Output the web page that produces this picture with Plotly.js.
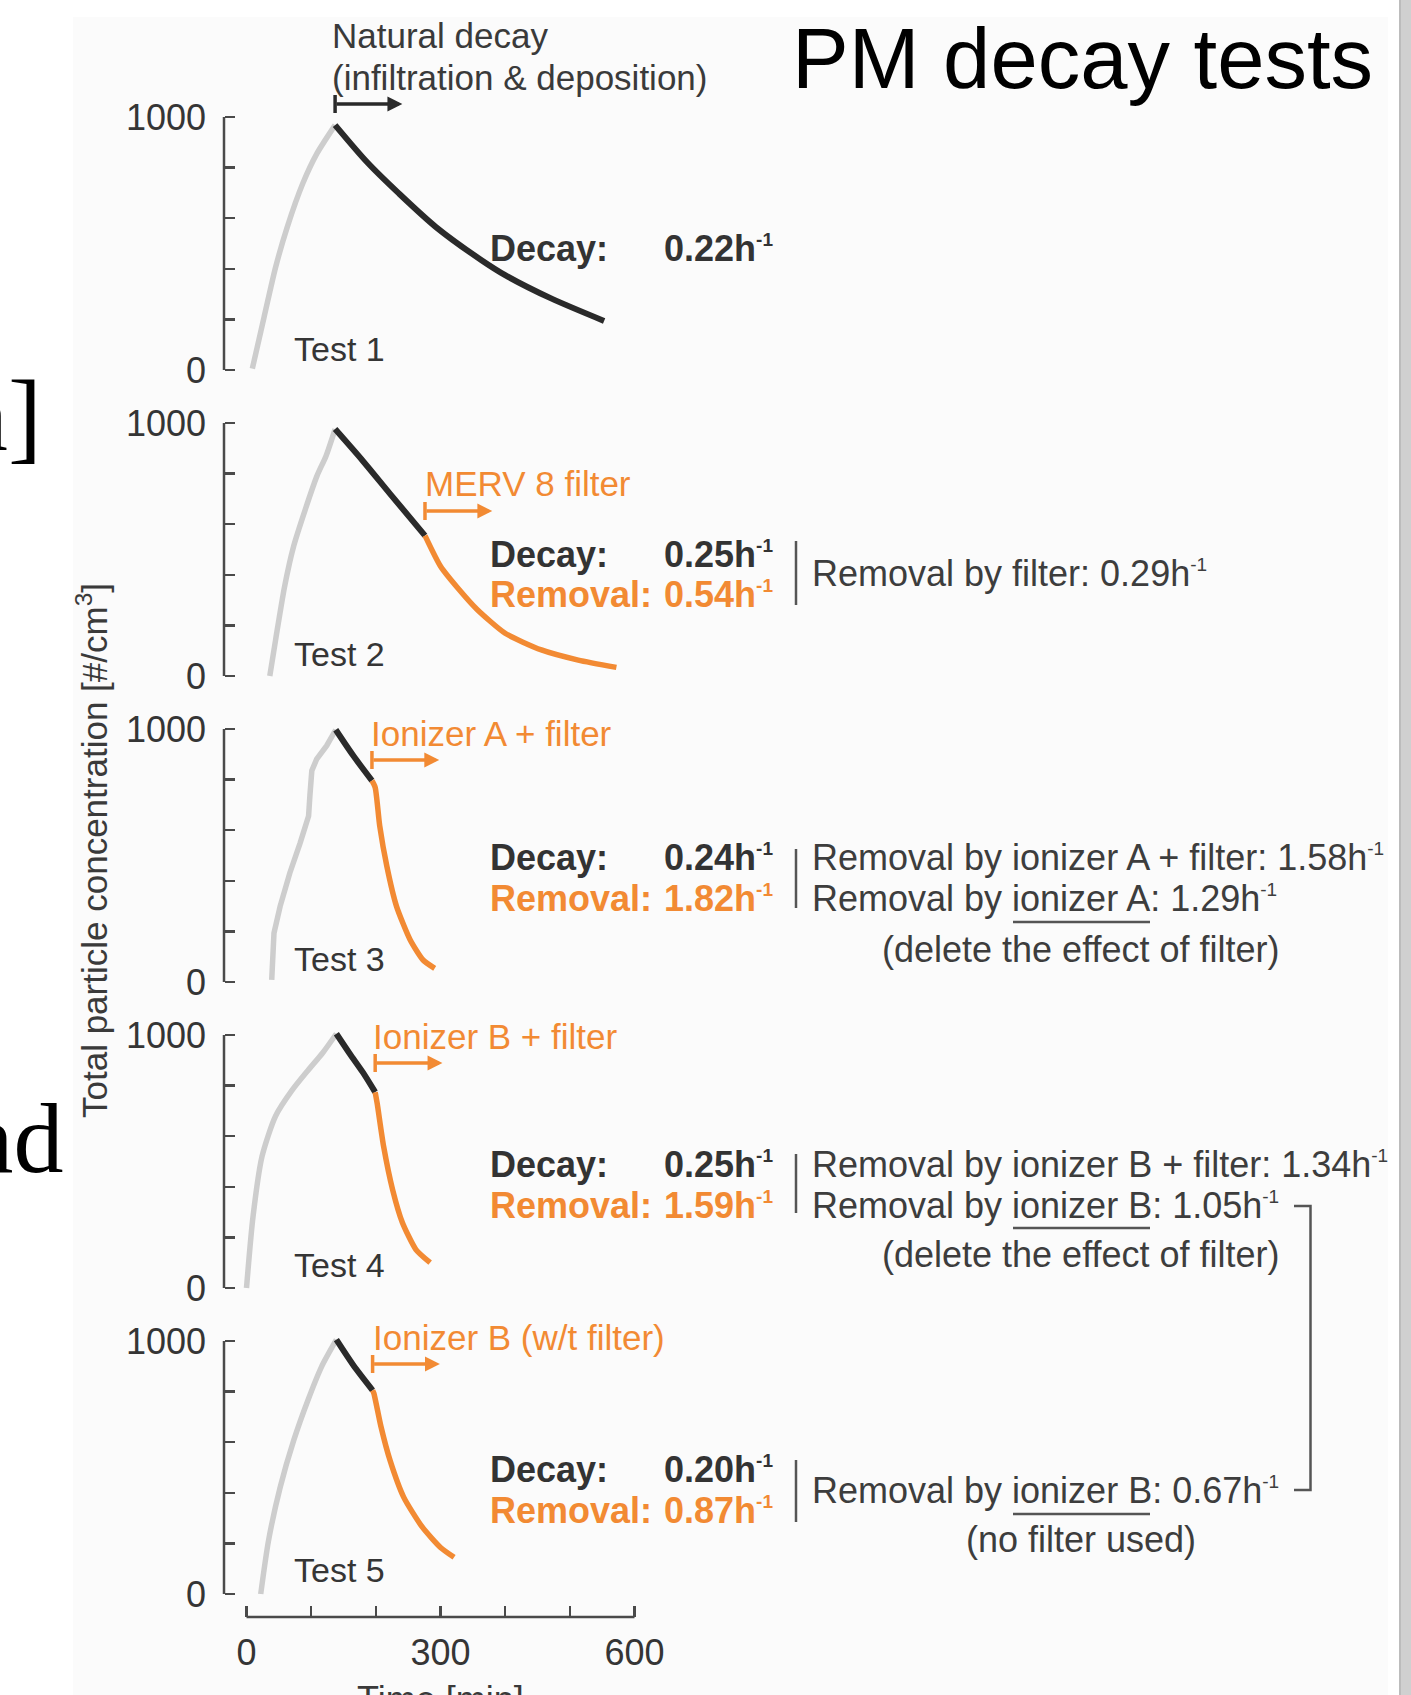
<!DOCTYPE html>
<html>
<head>
<meta charset="utf-8">
<script src="https://cdn.plot.ly/plotly-3.0.1.min.js"></script>
<style>html,body{margin:0;padding:0;background:#fff;}#chart{width:1411px;height:1695px;}</style>
</head>
<body>
<div id="chart"></div>
<script>
// ---------------- data ----------------
const timeTicks = [0, 300, 600];
const timeTickText = ['0', '300', '600'];
const concTicks = [0, 1000];
const concTickText = ['0', '1000'];

// Test 1
const rise1T = [9, 27, 45, 63, 87, 109, 137];
const rise1C = [5, 207, 406, 565, 737, 856, 968];
const decay1T = [137, 187, 236, 293, 364, 400, 471, 553];
const decay1C = [968, 820, 697, 565, 433, 375, 283, 194];
// Test 2
const rise2T = [36, 45, 59, 73, 91, 109, 123, 137];
const rise2C = [0, 143, 355, 514, 659, 791, 870, 976];
const decay2T = [137, 180, 222, 276];
const decay2C = [976, 850, 720, 555];
const removal2T = [276, 300, 329, 357, 400, 456, 513, 572];
const removal2C = [555, 434, 341, 262, 169, 103, 63, 34];
// Test 3
const rise3T = [39, 42.5, 52, 67, 83, 96, 98, 101, 108.5, 124, 138];
const rise3C = [8, 193, 299, 431, 550, 656, 735, 835, 881, 934, 997];
const decay3T = [138, 165, 194];
const decay3C = [997, 895, 796];
const removal3T = [194, 199, 206, 217, 232, 253, 273, 291];
const removal3C = [796, 769, 617, 458, 299, 167, 87, 54];
// Test 4
const rise4T = [0, 10, 24, 45, 70, 95, 118, 139];
const rise4C = [0, 280, 520, 680, 780, 860, 930, 1005];
const decay4T = [139, 160, 180, 199];
const decay4C = [1005, 925, 852, 774];
const removal4T = [199, 202, 212, 226, 241, 262, 284];
const removal4C = [774, 731, 560, 388, 259, 152, 100];
// Test 5
const rise5T = [22, 34, 52, 73, 95, 116, 139];
const rise5C = [0, 210, 421, 607, 766, 898, 1005];
const decay5T = [139, 165, 195];
const decay5C = [1005, 905, 805];
const removal5T = [195, 197, 208, 222, 243, 272, 300, 321];
const removal5C = [805, 793, 661, 528, 383, 264, 184, 145];

const testNames = ['Test 1', 'Test 2', 'Test 3', 'Test 4', 'Test 5'];
const treatmentNames = ['', 'MERV 8 filter', 'Ionizer A + filter', 'Ionizer B + filter', 'Ionizer B (w/t filter)'];
const treatmentStart = [137, 276, 194, 199, 195];
const decayRates = ['0.22', '0.25', '0.24', '0.25', '0.20'];
const removalRates = ['', '0.54', '1.82', '1.59', '0.87'];

// ---------------- geometry / style ----------------
const W = 1411, H = 1695;
const FONT = 'Liberation Sans, Arial, Helvetica, sans-serif';
const SERIF = 'Liberation Serif, Times New Roman, serif';
const GRAY = '#cdcdcd', DARK = '#2a2a2a', ORANGE = '#f28a33', AXC = '#4a4a4a', TXT = '#353535';
const px = x => x / W;
const py = y => 1 - y / H;
const SUP = '<sup><span style="font-size:19px">-1</span></sup>';

const panelTop = [117, 423, 729, 1035, 1341];
const PH = 253;                 // px for 1000 units
const Y_LO = -20, Y_HI = 1040;
const X0PX = 246.5, X600PX = 634.5;
const XPER = (X600PX - X0PX) / 600;
const X_LO = -10, X_HI = 610;
const YAXIS_X = 224;
const XAXIS_Y = 1617;

const traces = [];
const series = [
  [rise1T, rise1C, decay1T, decay1C, null, null],
  [rise2T, rise2C, decay2T, decay2C, removal2T, removal2C],
  [rise3T, rise3C, decay3T, decay3C, removal3T, removal3C],
  [rise4T, rise4C, decay4T, decay4C, removal4T, removal4C],
  [rise5T, rise5C, decay5T, decay5C, removal5T, removal5C]
];
series.forEach((s, k) => {
  const ya = k === 0 ? 'y' : 'y' + (k + 1);
  traces.push({x: s[0], y: s[1], xaxis: 'x', yaxis: ya, mode: 'lines', hoverinfo: 'skip',
    line: {color: GRAY, width: 5.5, shape: k === 2 ? 'linear' : 'spline', smoothing: 0.7}});
  traces.push({x: s[2], y: s[3], xaxis: 'x', yaxis: ya, mode: 'lines', hoverinfo: 'skip',
    line: {color: DARK, width: 6, shape: 'spline', smoothing: 0.8}});
  if (s[4]) traces.push({x: s[4], y: s[5], xaxis: 'x', yaxis: ya, mode: 'lines', hoverinfo: 'skip',
    line: {color: ORANGE, width: 5.5, shape: 'spline', smoothing: 0.6}});
});

const layout = {
  width: W, height: H,
  margin: {l: 0, r: 0, t: 0, b: 0, pad: 0},
  paper_bgcolor: '#ffffff', plot_bgcolor: 'rgba(0,0,0,0)',
  showlegend: false,
  font: {family: FONT, size: 35, color: TXT},
  xaxis: {
    domain: [px(X0PX + X_LO * XPER), px(X0PX + X_HI * XPER)], range: [X_LO, X_HI],
    anchor: 'free', position: py(XAXIS_Y), showline: false, showgrid: false, zeroline: false,
    ticks: 'inside', ticklen: 11, tickwidth: 2.5, tickcolor: AXC,
    tickmode: 'array', tickvals: timeTicks, ticktext: timeTickText,
    minor: {tick0: 0, dtick: 100, ticks: 'inside', ticklen: 11, tickwidth: 2.5, tickcolor: AXC, showgrid: false},
    tickfont: {family: FONT, size: 36, color: TXT}, ticklabelstandoff: 11, fixedrange: true
  },
  shapes: [], annotations: []
};

// background
layout.shapes.push({type: 'rect', xref: 'paper', yref: 'paper', x0: px(73), x1: px(1388), y0: 0, y1: py(17),
  fillcolor: '#fbfbfb', line: {width: 0}, layer: 'below'});
layout.shapes.push({type: 'rect', xref: 'paper', yref: 'paper', x0: px(1399), x1: 1, y0: 0, y1: 1,
  fillcolor: '#d0d0d0', line: {width: 0}, layer: 'below'});
layout.shapes.push({type: 'line', xref: 'paper', yref: 'paper', x0: px(1400), x1: px(1400), y0: 0, y1: 1,
  line: {color: '#bcbcbc', width: 2}, layer: 'below'});

// x-axis line
layout.shapes.push({type: 'line', xref: 'x', yref: 'paper', x0: 0, x1: 600, y0: py(XAXIS_Y), y1: py(XAXIS_Y),
  line: {color: AXC, width: 2.5}});

panelTop.forEach((top, k) => {
  const name = k === 0 ? 'yaxis' : 'yaxis' + (k + 1);
  const ref = k === 0 ? 'y' : 'y' + (k + 1);
  const scale = PH / 1000;
  layout[name] = {
    domain: [py(top + PH - Y_LO * scale), py(top - (Y_HI - 1000) * scale)], range: [Y_LO, Y_HI],
    anchor: 'free', position: px(YAXIS_X), showline: false, showgrid: false, zeroline: false,
    ticks: 'inside', ticklen: 10, tickwidth: 2.5, tickcolor: AXC,
    tickmode: 'array', tickvals: concTicks, ticktext: concTickText,
    minor: {tick0: 0, dtick: 200, ticks: 'inside', ticklen: 10, tickwidth: 2.5, tickcolor: AXC, showgrid: false},
    tickfont: {family: FONT, size: 36, color: TXT}, ticklabelstandoff: 18, fixedrange: true
  };
  layout.shapes.push({type: 'line', xref: 'paper', yref: ref, x0: px(YAXIS_X), x1: px(YAXIS_X), y0: 0, y1: 1000,
    line: {color: AXC, width: 2.5}});
});

function txt(x, y, text, size, color, extra) {
  layout.annotations.push(Object.assign({
    xref: 'paper', yref: 'paper', x: px(x), y: py(y), text: text, showarrow: false,
    xanchor: 'left', yanchor: 'middle', borderpad: 0,
    font: {family: FONT, size: size, color: color}
  }, extra || {}));
}
function vline(x, y0, y1, color, w) {
  layout.shapes.push({type: 'line', xref: 'paper', yref: 'paper', x0: px(x), x1: px(x), y0: py(y0), y1: py(y1),
    line: {color: color || '#555', width: w || 2.5}});
}
function hline(x0, x1, y, color, w) {
  layout.shapes.push({type: 'line', xref: 'paper', yref: 'paper', x0: px(x0), x1: px(x1), y0: py(y), y1: py(y),
    line: {color: color || '#555', width: w || 2.5}});
}
function arrow(tStart, yPix, color) {
  const tEnd = tStart + 104;
  layout.annotations.push({xref: 'x', yref: 'paper', x: tEnd, y: py(yPix), axref: 'x', ayref: 'pixel',
    ax: tStart, ay: 0, text: '', showarrow: true, arrowhead: 2, arrowsize: 0.85, arrowwidth: 3.5,
    arrowcolor: color, standoff: 0, startstandoff: 0});
  layout.shapes.push({type: 'line', xref: 'x', yref: 'paper', x0: tStart, x1: tStart,
    y0: py(yPix - 9), y1: py(yPix + 9), line: {color: color, width: 3.5}});
}

// title & slide fragments
txt(791, 59, 'PM decay tests', 85, '#000000');
txt(64, 1138, 'and', 100, '#000000', {xanchor: 'right', font: {family: SERIF, size: 100, color: '#000'}});
txt(43, 415, 'n]', 102, '#000000', {xanchor: 'right', font: {family: SERIF, size: 102, color: '#000'}});

// axis titles
txt(92, 851, 'Total particle concentration [#/cm<sup>3</sup>]', 35, '#3a3a3a', {xanchor: 'center', textangle: -90});
txt(440.5, 1700, 'Time [min]', 36, '#3a3a3a', {xanchor: 'center'});

// natural decay header
txt(331, 36, 'Natural decay', 35, '#3a3a3a');
txt(331, 77, '(infiltration &amp; deposition)', 35, '#3a3a3a');
arrow(treatmentStart[0], 104, DARK);

// per-panel texts
const testY = [349, 654, 959, 1265, 1570];
const treatY = [0, 484, 733, 1036, 1337];
const arrowY = [104, 511, 760, 1063, 1364];
const treatX = [0, 424, 370, 372, 372];
const decayY = [249, 554, 858, 1164, 1469];
testNames.forEach((n, k) => {
  txt(293, testY[k], n, 34, TXT);
  txt(489, decayY[k], '<b>Decay:</b>', 36, '#333333');
  txt(663, decayY[k], '<b>' + decayRates[k] + 'h' + SUP + '</b>', 36, '#333333');
  if (k > 0) {
    txt(treatX[k], treatY[k], treatmentNames[k], 35, ORANGE);
    arrow(treatmentStart[k], arrowY[k], ORANGE);
    txt(489, decayY[k] + 41, '<b>Removal:</b>', 36, ORANGE);
    txt(663, decayY[k] + 41, '<b>' + removalRates[k] + 'h' + SUP + '</b>', 36, ORANGE);
  }
});

// right-hand notes
const NOTE = '#3d3d3d';
vline(796, 541, 605);
txt(811, 573, 'Removal by filter: 0.29h' + SUP, 36, NOTE);

vline(796, 849, 908);
txt(811, 858, 'Removal by ionizer A + filter: 1.58h' + SUP, 36, NOTE);
txt(811, 899, 'Removal by ionizer A: 1.29h' + SUP, 36, NOTE);
hline(1013, 1150, 922);
txt(1081, 949, '(delete the effect of filter)', 36, NOTE, {xanchor: 'center'});

vline(796, 1154, 1213);
txt(811, 1164, 'Removal by ionizer B + filter: 1.34h' + SUP, 36, NOTE);
txt(811, 1205, 'Removal by ionizer B: 1.05h' + SUP, 36, NOTE);
hline(1013, 1150, 1228);
txt(1081, 1254, '(delete the effect of filter)', 36, NOTE, {xanchor: 'center'});

vline(796, 1460, 1522);
txt(811, 1490, 'Removal by ionizer B: 0.67h' + SUP, 36, NOTE);
hline(1013, 1150, 1514);
txt(1081, 1539, '(no filter used)', 36, NOTE, {xanchor: 'center'});

// bracket linking ionizer B results
layout.shapes.push({type: 'path', xref: 'paper', yref: 'paper',
  path: 'M ' + px(1294) + ',' + py(1206) + ' L ' + px(1310.5) + ',' + py(1206) + ' L ' + px(1310.5) + ',' + py(1490) + ' L ' + px(1294) + ',' + py(1490),
  line: {color: '#555', width: 2.5}});

Plotly.newPlot('chart', traces, layout, {staticPlot: true, displayModeBar: false});
</script>
</body>
</html>
